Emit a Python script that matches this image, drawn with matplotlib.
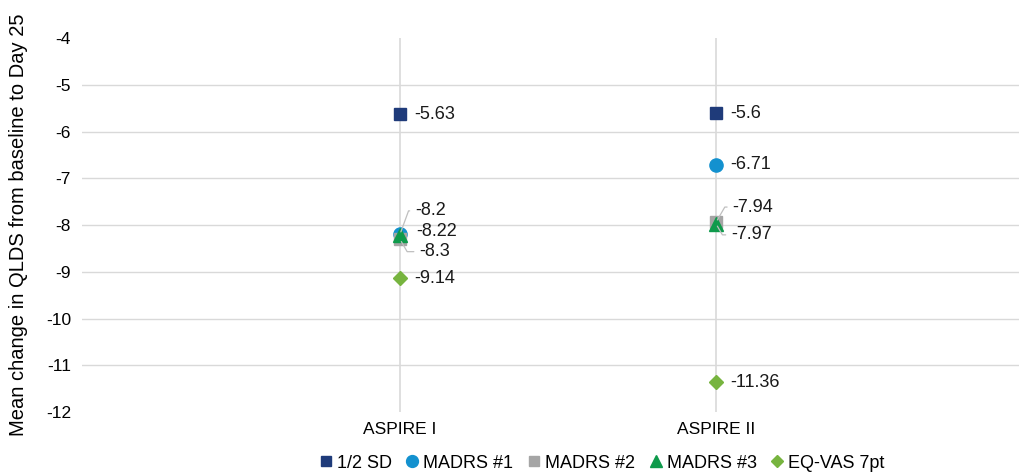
import matplotlib.pyplot as plt

plt.rcParams['font.family'] = ['Liberation Sans', 'DejaVu Sans']

studies = ['ASPIRE I', 'ASPIRE II']
half_sd = [-5.63, -5.6]
madrs_1 = [-8.2, -6.71]
madrs_2 = [-8.3, -7.94]
madrs_3 = [-8.22, -7.97]
eq_vas = [-9.14, -11.36]

series = [
    ('1/2 SD', half_sd, 's', '#1F3B7A', 8.5),
    ('MADRS #1', madrs_1, 'o', '#1391CF', 9.5),
    ('MADRS #2', madrs_2, 's', '#A5A5A5', 8.5),
    ('MADRS #3', madrs_3, '^', '#0E9A4B', 9.5),
    ('EQ-VAS 7pt', eq_vas, 'D', '#77B43F', 7),
]

fig = plt.figure(figsize=(10.2, 4.76), dpi=100)
ax = fig.add_axes([0.0804, 0.1345, 0.9196, 0.785])

xs = list(range(len(studies)))
ax.set_xlim(-1.006, 1.962)
ax.set_ylim(-12, -4)
ax.set_yticks(range(-12, -3))
ax.set_yticklabels([str(v) for v in range(-12, -3)], fontsize=12.5)
for v in range(-11, -4):
    ax.axhline(v, color='#D9D9D9', lw=1, zorder=0)
ax.vlines(xs, -12, -4, color='#D9D9D9', lw=1.2, zorder=1)

for name, vals, mk, col, ms in series:
    ax.plot(xs, vals, linestyle='none', marker=mk, color=col, markersize=ms,
            label=name, zorder=3)

ax.set_xticks(xs)
ax.set_xticklabels(studies, fontsize=12.5)
ax.tick_params(axis='both', length=0, pad=8)
ax.tick_params(axis='x', pad=7)
for s in ax.spines.values():
    s.set_visible(False)
ax.set_ylabel('Mean change in QLDS from baseline to Day 25', fontsize=14.5, labelpad=13)

lbl = dict(fontsize=13, va='center', ha='left', color='#1A1A1A')
lead = dict(color='#BFBFBF', lw=0.9)
# plain labels to the right of isolated markers
for vals in (half_sd, eq_vas):
    for x, v in zip(xs, vals):
        ax.annotate(f'{v:g}', (x, v), xytext=(10, 0), textcoords='offset points', **lbl)
ax.annotate(f'{madrs_1[1]:g}', (1, madrs_1[1]), xytext=(10, 0), textcoords='offset points', **lbl)

# crowded labels with leader lines
ax.annotate(f'{madrs_1[0]:g}', (0, madrs_1[0]), xytext=(11, 17), textcoords='offset points',
            arrowprops=dict(arrowstyle='-', connectionstyle='angle,angleA=0,angleB=70,rad=0', **lead), **lbl)
ax.annotate(f'{madrs_3[0]:g}', (0, madrs_3[0]), xytext=(12, 3), textcoords='offset points', **lbl)
ax.annotate(f'{madrs_2[0]:g}', (0, madrs_2[0]), xytext=(14, -9), textcoords='offset points',
            arrowprops=dict(arrowstyle='-', connectionstyle='angle,angleA=0,angleB=-60,rad=0', **lead), **lbl)
ax.annotate(f'{madrs_2[1]:g}', (1, madrs_2[1]), xytext=(12, 11), textcoords='offset points',
            arrowprops=dict(arrowstyle='-', connectionstyle='angle,angleA=0,angleB=60,rad=0', **lead), **lbl)
ax.annotate(f'{madrs_3[1]:g}', (1, madrs_3[1]), xytext=(11, -8), textcoords='offset points',
            arrowprops=dict(arrowstyle='-', connectionstyle='angle,angleA=0,angleB=-60,rad=0', **lead), **lbl)

fig.legend(loc='lower center', bbox_to_anchor=(0.588, -0.025), ncol=5, frameon=False,
           fontsize=13, handletextpad=0.0, columnspacing=0.55, handlelength=1.2,
           markerscale=0.9)

fig.savefig('out.png', dpi=100)
